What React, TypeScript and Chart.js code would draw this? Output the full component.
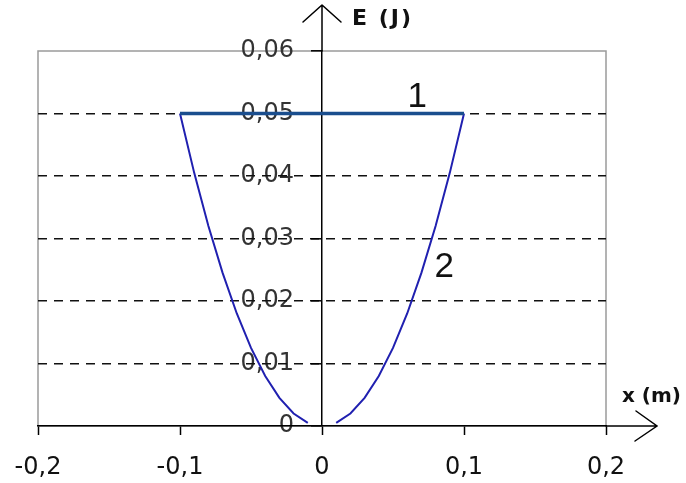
import React, { useEffect, useRef } from 'react';
import { Chart, registerables } from 'chart.js';

Chart.register(...registerables);

// Curve 2 (potential energy), gap at x = 0
const curveX = [-0.1, -0.09, -0.08, -0.07, -0.06, -0.05, -0.04, -0.03, -0.02, -0.01, 0, 0.01, 0.02, 0.03, 0.04, 0.05, 0.06, 0.07, 0.08, 0.09, 0.1];
const curveE = [0.05, 0.0405, 0.032, 0.0245, 0.018, 0.0125, 0.008, 0.0045, 0.002, 0.0005, null, 0.0005, 0.002, 0.0045, 0.008, 0.0125, 0.018, 0.0245, 0.032, 0.0405, 0.05];
// Line 1 (total energy)
const levelX = [-0.1, 0.1];
const levelE = [0.05, 0.05];

const xTickLabels = ['-0,2', '-0,1', '0', '0,1', '0,2'];
const yTickLabels = ['0', '0,01', '0,02', '0,03', '0,04', '0,05', '0,06'];

const curveNames = ['1', '2'];
const nameX = [0.067, 0.086];
const nameE = [0.0526, 0.0254];

const TICK_FONT = '24px "DejaVu Sans"';
const near = (a: number, b: number) => Math.abs(a - b) < 1e-9;

const overlay = {
  id: 'overlay',
  beforeDraw(chart: any) {
    const { ctx, chartArea: a } = chart;
    const ys = chart.scales.y;
    const xs = chart.scales.x;
    ctx.save();
    // gray frame
    ctx.strokeStyle = '#9a9a9a';
    ctx.lineWidth = 1.5;
    ctx.strokeRect(a.left, a.top, a.right - a.left, a.bottom - a.top);
    // y tick labels (under grid lines, as in the original)
    const axisX = xs.getPixelForValue(0);
    ctx.font = TICK_FONT;
    ctx.fillStyle = '#333';
    ctx.textAlign = 'right';
    ctx.textBaseline = 'middle';
    ys.ticks.forEach((t: any, i: number) => {
      ctx.fillText(yTickLabels[i] ?? '', axisX - 28, ys.getPixelForValue(t.value));
    });
    ctx.restore();
  },
  afterDraw(chart: any) {
    const { ctx, chartArea: a } = chart;
    const xs = chart.scales.x;
    const ys = chart.scales.y;
    const ox = xs.getPixelForValue(0);
    const oy = ys.getPixelForValue(0);
    ctx.save();
    ctx.strokeStyle = '#000';
    ctx.lineWidth = 1.5;
    ctx.lineCap = 'round';
    // y axis extension + arrow
    ctx.beginPath();
    ctx.moveTo(ox, a.top);
    ctx.lineTo(ox, 5);
    ctx.moveTo(ox - 19, 22);
    ctx.lineTo(ox, 5);
    ctx.lineTo(ox + 19, 22);
    // x axis extension + arrow
    const tipX = 657;
    ctx.moveTo(a.right, oy);
    ctx.lineTo(tipX, oy);
    ctx.moveTo(tipX - 21, oy - 15);
    ctx.lineTo(tipX, oy);
    ctx.lineTo(tipX - 22, oy + 15);
    ctx.stroke();

    // axis titles
    ctx.fillStyle = '#111';
    ctx.textAlign = 'left';
    ctx.textBaseline = 'middle';
    ctx.font = 'bold 22px "DejaVu Sans"';
    (ctx as any).letterSpacing = '2px';
    ctx.fillText('E (J)', 352, 19);
    ctx.font = 'bold 20px "DejaVu Sans"';
    (ctx as any).letterSpacing = '0px';
    ctx.fillText('x (m)', 622, 397);

    // curve names
    ctx.font = '35px "Liberation Sans"';
    ctx.textAlign = 'center';
    ctx.textBaseline = 'middle';
    curveNames.forEach((n, i) => {
      ctx.fillText(n, xs.getPixelForValue(nameX[i]), ys.getPixelForValue(nameE[i]));
    });
    ctx.restore();
  },
};

export default function App() {
  const ref = useRef<HTMLCanvasElement | null>(null);
  useEffect(() => {
    document.body.style.margin = '0';
    const canvas = ref.current;
    if (!canvas) return;
    const chart = new Chart(canvas, {
      type: 'line',
      data: {
        datasets: [
          {
            label: '1',
            data: levelX.map((x, i) => ({ x, y: levelE[i] })),
            borderColor: '#1a4e8e',
            borderWidth: 3.5,
            pointRadius: 0,
            tension: 0,
          },
          {
            label: '2',
            data: curveX.map((x, i) => ({ x, y: curveE[i] })),
            borderColor: '#2020b0',
            borderWidth: 2,
            pointRadius: 0,
            tension: 0,
            spanGaps: false,
          },
        ],
      },
      options: {
        responsive: false,
        animation: false,
        events: [],
        layout: { padding: { left: 38, right: 80, top: 51, bottom: 0 } },
        plugins: { legend: { display: false }, tooltip: { enabled: false } },
        scales: {
          x: {
            type: 'linear',
            position: 'bottom',
            min: -0.2,
            max: 0.2,
            afterFit: (s: any) => {
              s.height = 57;
              s.paddingLeft = 0;
              s.paddingRight = 0;
            },
            ticks: {
              stepSize: 0.1,
              padding: 18,
              color: '#111',
              font: { family: 'DejaVu Sans', size: 24 },
              maxRotation: 0,
              callback: (_v: any, i: number) => xTickLabels[i],
            },
            grid: {
              display: true,
              drawOnChartArea: false,
              drawTicks: true,
              tickLength: 9,
              tickColor: '#000',
              tickWidth: 1.5,
            },
            border: { display: true, color: '#000', width: 1.5 },
          },
          y: {
            type: 'linear',
            position: { x: 0 } as any,
            min: 0,
            max: 0.06,
            afterFit: (s: any) => {
              s.paddingTop = 0;
              s.paddingBottom = 0;
            },
            ticks: { stepSize: 0.01, display: false },
            grid: {
              display: true,
              drawOnChartArea: true,
              drawTicks: true,
              tickLength: 10,
              tickColor: '#000',
              tickWidth: 1.5,
              lineWidth: 1.6,
              color: (c: any) =>
                c.tick && (near(c.tick.value, 0.06) || near(c.tick.value, 0)) ? 'rgba(0,0,0,0)' : '#111',
            },
            border: { display: true, color: '#000', width: 1.5, dash: [9, 7] },
          },
        },
      },
      plugins: [overlay],
    });
    return () => chart.destroy();
  }, []);
  return (
    <div style={{ width: 686, height: 483, background: '#fff' }}>
      <canvas ref={ref} width={686} height={483} style={{ display: 'block' }} />
    </div>
  );
}
